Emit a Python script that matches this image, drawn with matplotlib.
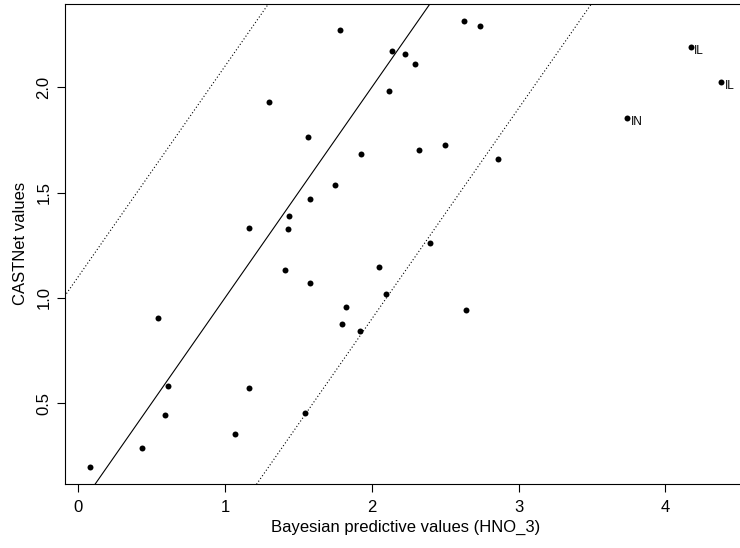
import numpy as np
import matplotlib
matplotlib.use("Agg")
import matplotlib.pyplot as plt

plt.rcParams['font.family'] = ['Liberation Sans', 'DejaVu Sans']

# Bayesian predictive values (x) vs CASTNet values (y)
bayes = [0.079, 0.437, 0.546, 0.590, 0.613, 1.068, 1.162, 1.162, 1.297, 1.409,
         1.427, 1.438, 1.547, 1.567, 1.582, 1.582, 1.749, 1.785, 1.794, 1.826,
         1.917, 1.926, 2.049, 2.099, 2.117, 2.140, 2.228, 2.293, 2.322, 2.396,
         2.501, 2.627, 2.639, 2.739, 2.860, 3.740, 4.172, 4.380]
castnet = [0.199, 0.289, 0.905, 0.444, 0.583, 0.355, 1.332, 0.570, 1.929, 1.133,
           1.327, 1.389, 0.455, 1.763, 1.469, 1.071, 1.536, 2.270, 0.877, 0.957,
           0.844, 1.682, 1.147, 1.017, 1.981, 2.171, 2.156, 2.109, 1.701, 1.261,
           1.725, 2.313, 0.943, 2.289, 1.659, 1.853, 2.190, 2.024]
site_labels = {35: "IN", 36: "IL", 37: "IL"}

# reference lines y = a + x
intercepts = [0.0, 1.1, -1.1]
line_styles = ['-', (0, (1, 2)), (0, (1, 2))]

x_ticks = [0, 1, 2, 3, 4]
y_ticks = [0.5, 1.0, 1.5, 2.0]

fig = plt.figure(figsize=(7.4, 5.48), dpi=100)
ax = fig.add_axes([0.0872, 0.1162, 0.9216, 0.8774])

# R-style 4% padding on the data range
xr = max(bayes) - min(bayes)
yr = max(castnet) - min(castnet)
ax.set_xlim(min(bayes) - 0.04 * xr, max(bayes) + 0.04 * xr)
ax.set_ylim(min(castnet) - 0.04 * yr, max(castnet) + 0.04 * yr)

for a, ls in zip(intercepts, line_styles):
    ax.axline((0, a), slope=1, color='black', lw=0.8, linestyle=ls)

ax.plot(bayes, castnet, 'o', color='black', markersize=4.3, markeredgewidth=0)

for i, lab in site_labels.items():
    ax.annotate(lab, (bayes[i], castnet[i]), xytext=(2.5, -2.5),
                textcoords='offset points', fontsize=8.5,
                ha='left', va='center')

ax.set_xticks(x_ticks)
ax.set_xticklabels([str(t) for t in x_ticks])
ax.set_yticks(y_ticks)
ax.set_yticklabels([f"{t:.1f}" for t in y_ticks], rotation=90, va='center')
ax.tick_params(axis='both', direction='out', length=5.5, width=0.8,
               labelsize=12, color='black')
ax.tick_params(axis='x', pad=5.5)
ax.tick_params(axis='y', pad=4)

for s in ax.spines.values():
    s.set_linewidth(0.8)

ax.set_xlabel("Bayesian predictive values (HNO_3)", fontsize=12, labelpad=4)
ax.set_ylabel("CASTNet values", fontsize=12, labelpad=6)

fig.savefig("out.png", dpi=100)
